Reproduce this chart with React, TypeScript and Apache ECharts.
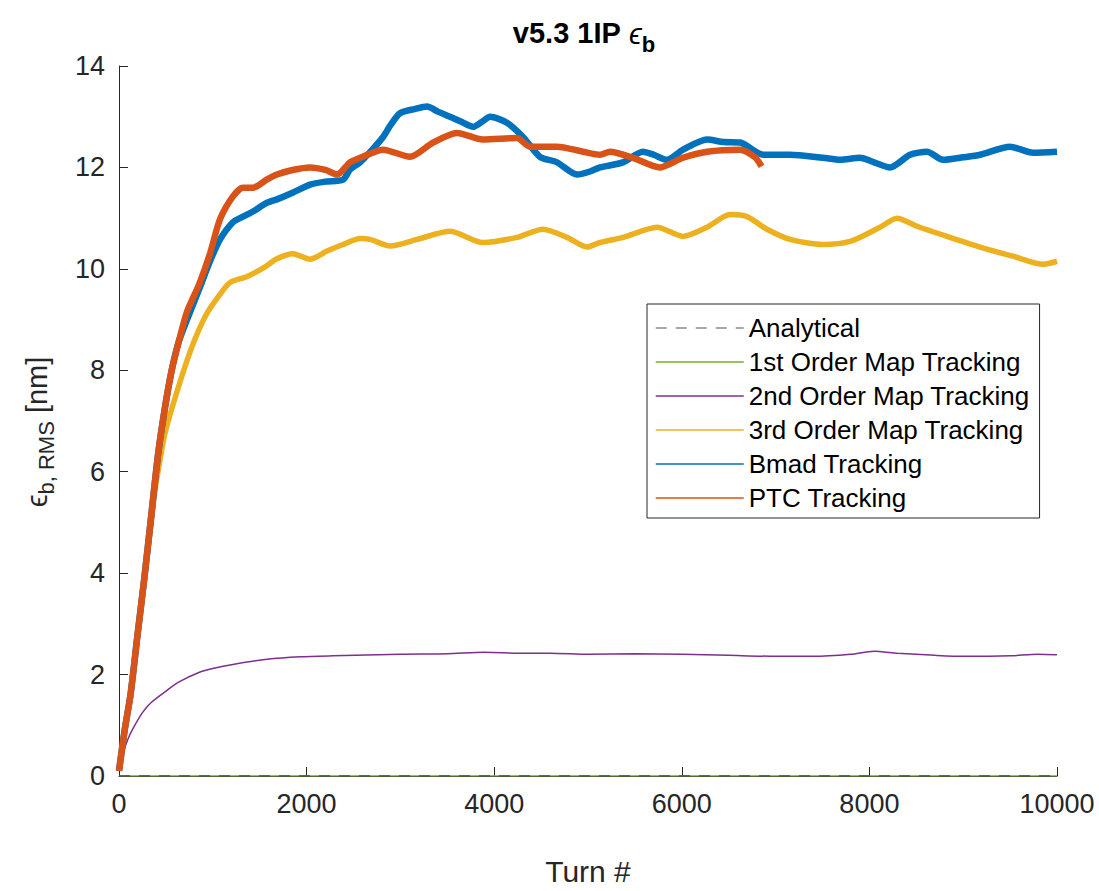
import React, { useEffect, useRef } from "react";
import * as echarts from "echarts";

const xTicks = [0, 2000, 4000, 6000, 8000, 10000];
const yTicks = [0, 2, 4, 6, 8, 10, 12, 14];

const analytical: number[][] = [[0, 0], [10000, 0]];
const firstOrder: number[][] = [[0, 0], [10000, 0]];
const secondOrder: number[][] = [
  [0, 0.1], [47, 0.47], [100, 0.75], [153, 0.95], [250, 1.25], [343, 1.45], [512, 1.69], [635, 1.85],
  [864, 2.05], [1000, 2.12], [1215, 2.2], [1578, 2.3], [1930, 2.35], [2281, 2.37], [2996, 2.4],
  [3500, 2.41], [3900, 2.44], [4300, 2.42], [4600, 2.42], [5000, 2.4], [5500, 2.41], [6000, 2.4],
  [6500, 2.38], [7000, 2.36], [7400, 2.36], [7800, 2.4], [8050, 2.46], [8300, 2.42], [8700, 2.38],
  [9000, 2.36], [9500, 2.37], [9800, 2.4], [10000, 2.39],
];
const thirdOrder: number[][] = [
  [0, 0.1], [60, 0.9], [124, 1.62], [196, 2.76], [270, 3.9], [306, 4.45], [343, 5.0], [380, 5.6],
  [430, 6.15], [489, 6.75], [635, 7.68], [781, 8.48], [928, 9.09], [1074, 9.49], [1184, 9.73],
  [1366, 9.85], [1549, 10.03], [1684, 10.2], [1855, 10.3], [2036, 10.19], [2217, 10.35], [2388, 10.48],
  [2570, 10.6], [2676, 10.58], [2889, 10.45], [3177, 10.58], [3529, 10.74], [3880, 10.52], [4243, 10.62],
  [4520, 10.78], [4776, 10.62], [4989, 10.43], [5128, 10.52], [5373, 10.62], [5736, 10.82], [6013, 10.64],
  [6269, 10.82], [6514, 11.07], [6695, 11.03], [6908, 10.78], [7154, 10.58], [7505, 10.48], [7793, 10.54],
  [8113, 10.82], [8294, 11.0], [8508, 10.84], [8827, 10.64], [9179, 10.43], [9531, 10.25], [9851, 10.09],
  [10000, 10.15],
];
const bmad: number[][] = [
  [0, 0.1], [60, 0.9], [124, 1.62], [196, 2.76], [270, 3.9], [343, 5.12], [416, 6.33], [489, 7.25],
  [562, 8.0], [635, 8.55], [745, 9.09], [855, 9.6], [970, 10.15], [1077, 10.58], [1215, 10.92],
  [1322, 11.03], [1428, 11.13], [1574, 11.3], [1684, 11.37], [1850, 11.5], [2036, 11.66], [2200, 11.72],
  [2388, 11.76], [2463, 11.96], [2570, 12.1], [2700, 12.35], [2815, 12.6], [2900, 12.85], [2996, 13.07],
  [3150, 13.15], [3284, 13.2], [3400, 13.1], [3529, 13.0], [3650, 12.9], [3774, 12.8], [3870, 12.9],
  [3955, 13.0], [4136, 12.88], [4307, 12.6], [4488, 12.21], [4670, 12.1], [4883, 11.86], [5021, 11.92],
  [5128, 12.0], [5373, 12.1], [5586, 12.31], [5700, 12.25], [5842, 12.15], [6013, 12.35], [6269, 12.55],
  [6450, 12.5], [6620, 12.49], [6866, 12.25], [7154, 12.25], [7505, 12.19], [7687, 12.15], [7900, 12.19],
  [8050, 12.1], [8220, 12.0], [8433, 12.25], [8614, 12.31], [8785, 12.15], [9000, 12.2], [9179, 12.25],
  [9499, 12.41], [9744, 12.29], [10000, 12.31],
];
const ptc: number[][] = [
  [0, 0.1], [60, 0.9], [124, 1.62], [196, 2.76], [270, 3.9], [343, 5.12], [416, 6.33], [489, 7.25],
  [562, 8.0], [635, 8.55], [724, 9.15], [855, 9.7], [970, 10.3], [1077, 10.98], [1215, 11.43],
  [1322, 11.6], [1428, 11.6], [1574, 11.76], [1684, 11.86], [1850, 11.95], [2036, 12.0], [2200, 11.95],
  [2324, 11.86], [2463, 12.1], [2570, 12.19], [2815, 12.35], [3102, 12.21], [3348, 12.49], [3603, 12.68],
  [3880, 12.55], [4243, 12.58], [4382, 12.41], [4670, 12.41], [4947, 12.31], [5128, 12.25], [5234, 12.31],
  [5480, 12.19], [5768, 12.0], [6013, 12.19], [6269, 12.31], [6620, 12.35], [6780, 12.2], [6850, 12.02],
];

const seriesNames = [
  "Analytical",
  "1st Order Map Tracking",
  "2nd Order Map Tracking",
  "3rd Order Map Tracking",
  "Bmad Tracking",
  "PTC Tracking",
];
const seriesColors = ["#4a4a4a", "#77AC30", "#7E2F8E", "#EDB120", "#0072BD", "#D95319"];

const FONT = "'Liberation Sans', Arial, Helvetica, sans-serif";
const AXIS = "#262626";

function textWidth(s: string, font: string): number {
  const ctx = document.createElement("canvas").getContext("2d");
  if (!ctx) return s.length * 10;
  ctx.font = font;
  return ctx.measureText(s).width;
}

export default function App() {
  const ref = useRef<HTMLDivElement>(null);
  useEffect(() => {
    if (!ref.current) return;
    const chart = echarts.init(ref.current, undefined, { renderer: "svg" });

    // Title layout
    const tMain = "v5.3 1IP ";
    const tFont = 29;
    const bFont = 22;
    const wMain = textWidth(tMain, `bold ${tFont}px ${FONT}`);
    const wEps = textWidth("ϵ", `italic ${tFont}px ${FONT}`);
    const wB = textWidth("b", `bold ${bFont}px ${FONT}`);
    const tW = wMain + wEps + wB;
    const tx0 = 584 - tW / 2;
    const ty = 33;

    // Y label layout (local coords, rotated)
    const yFont = 29;
    const subFont = 22;
    const wE = textWidth("ϵ", `${yFont}px ${FONT}`);
    const wSub = textWidth("b, RMS", `${subFont}px ${FONT}`);
    const wNm = textWidth(" [nm]", `${yFont}px ${FONT}`);
    const yW = wE + wSub + wNm;
    const yx0 = -yW / 2;

    const data = [analytical, firstOrder, secondOrder, thirdOrder, bmad, ptc];
    const widths = [1.5, 1.5, 1.5, 5.5, 6.5, 6.5];
    const zs = [6, 1, 2, 3, 4, 5];

    const option: any = {
      animation: false,
      backgroundColor: "#ffffff",
      grid: { left: 119, right: 42, top: 66, bottom: 112, containLabel: false },
      xAxis: {
        type: "value",
        min: xTicks[0],
        max: xTicks[xTicks.length - 1],
        interval: 2000,
        name: "Turn #",
        nameLocation: "middle",
        nameGap: 80,
        nameTextStyle: { fontSize: 30, color: AXIS, fontFamily: FONT },
        axisLine: { show: true, lineStyle: { color: AXIS, width: 1 } },
        axisTick: { show: true, inside: true, length: 9, lineStyle: { color: AXIS } },
        axisLabel: { fontSize: 27, color: AXIS, fontFamily: FONT, margin: 14, formatter: (v: number) => String(v) },
        splitLine: { show: false },
      },
      yAxis: {
        type: "value",
        min: yTicks[0],
        max: yTicks[yTicks.length - 1],
        interval: 2,
        axisLine: { show: true, lineStyle: { color: AXIS, width: 1 } },
        axisTick: { show: true, inside: true, length: 9, lineStyle: { color: AXIS } },
        axisLabel: { fontSize: 27, color: AXIS, fontFamily: FONT, margin: 14, formatter: (v: number) => String(v) },
        splitLine: { show: false },
      },
      legend: {
        orient: "vertical",
        left: 647,
        top: 304,
        data: seriesNames.map((n, i) => ({
          name: n,
          lineStyle: i === 0 ? { color: "#8c8c8c", type: [11, 9], width: 1.5 } : { width: 1.5 },
        })),
        itemWidth: 88,
        itemHeight: 14,
        itemGap: 0,
        padding: [7, 10, 3, 8],
        borderColor: AXIS,
        borderWidth: 1,
        backgroundColor: "#ffffff",
        itemStyle: { opacity: 0 },
        textStyle: { fontSize: 26, color: "#000000", fontFamily: FONT, lineHeight: 34 },
        lineStyle: { width: 1.5 },
      },
      series: seriesNames.map((n, i) => ({
        name: n,
        type: "line",
        data: data[i],
        symbol: "none",
        showSymbol: false,
        smooth: i >= 2 ? 0.25 : false,
        z: zs[i],
        color: seriesColors[i],
        lineStyle: {
          color: seriesColors[i],
          width: widths[i],
          type: i === 0 ? [11, 9] : "solid",
        },
      })),
      graphic: [
        {
          type: "text",
          x: tx0,
          y: ty,
          style: { text: tMain, font: `bold ${tFont}px ${FONT}`, fill: "#000", textVerticalAlign: "middle", textAlign: "left" },
        },
        {
          type: "text",
          x: tx0 + wMain,
          y: ty + 1,
          style: { text: "ϵ", font: `italic ${tFont}px ${FONT}`, fill: "#000", textVerticalAlign: "middle", textAlign: "left" },
        },
        {
          type: "text",
          x: tx0 + wMain + wEps,
          y: ty + 11,
          style: { text: "b", font: `bold ${bFont}px ${FONT}`, fill: "#000", textVerticalAlign: "middle", textAlign: "left" },
        },
        {
          type: "group",
          x: 37,
          y: 432,
          rotation: Math.PI / 2,
          children: [
            {
              type: "text",
              x: yx0,
              y: 0,
              style: { text: "ϵ", font: `${yFont}px ${FONT}`, fill: AXIS, textVerticalAlign: "middle", textAlign: "left" },
            },
            {
              type: "text",
              x: yx0 + wE,
              y: 9,
              style: { text: "b, RMS", font: `${subFont}px ${FONT}`, fill: AXIS, textVerticalAlign: "middle", textAlign: "left" },
            },
            {
              type: "text",
              x: yx0 + wE + wSub,
              y: 0,
              style: { text: " [nm]", font: `${yFont}px ${FONT}`, fill: AXIS, textVerticalAlign: "middle", textAlign: "left" },
            },
          ],
        },
      ],
    };
    chart.setOption(option);
    return () => chart.dispose();
  }, []);
  return (
    <div
      ref={ref}
      style={{ position: "absolute", left: 0, top: 0, width: 1099, height: 891, overflow: "hidden" }}
    />
  );
}
